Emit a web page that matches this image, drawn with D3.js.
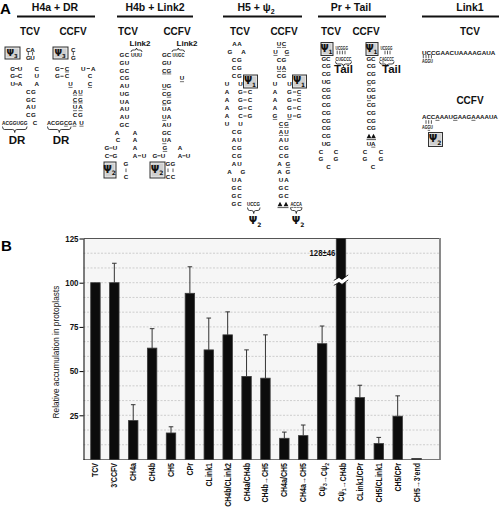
<!DOCTYPE html>
<html><head><meta charset="utf-8">
<script src="https://cdn.jsdelivr.net/npm/d3@7"></script>
<style>body{margin:0;background:#fff}svg{display:block}</style>
</head><body>
<svg id="c" width="499" height="510"></svg>
<script>
// ---------- DATA (panel B) ----------
const categories = ["TCV","3'CCFV","CH4a","CH4b","CH5","CPr","CLink1","CH4b/CLink2","CH4a/CH4b","CH4b→CH5","CH4a/CH5","CH4a→CH5","Cψ3→Cψ2","Cψ1→CH4b","CLink1/CPr","CH5/CLink1","CH5/CPr","CH5→3'end"];
const values = [100,100,22,63,15,94,62,70.5,47,46,12,13.5,65.5,128,35,9,24.5,0.6];
const errors = [0,11,9,11,3.5,15,18,13,15,24.5,3.5,6,10,46,7,3.5,11.5,0];
const yTicks = [25,50,75,100,125];
const yMax = 125;
const breakAt = 103;
const yTitle = "Relative accumulation in protoplasts";

const NF = "'Liberation Sans Narrow','Arial Narrow','Liberation Sans',Arial,sans-serif";
const svg = d3.select('#c');

// ---------- PANEL B ----------
const P = {l:83.5, r:440, t:238.5, b:459.5};
const y = d3.scaleLinear().domain([0, yMax]).range([P.b, P.t]);
const x = d3.scaleBand().domain(categories).range([86, 426]).paddingInner(0.5).paddingOuter(0.25);

const gB = svg.append('g');
gB.append('rect').attr('x',P.l).attr('y',P.t).attr('width',P.r-P.l).attr('height',P.b-P.t).attr('fill','#f6f6f6');
d3.range(1, 15).map(i => i*25/3).filter(v => v < yMax - 0.1).forEach(v => {
  gB.append('line').attr('x1',P.l).attr('x2',P.r-1).attr('y1',y(v)).attr('y2',y(v))
    .attr('stroke','#c4c4c4').attr('stroke-width',0.8).attr('stroke-dasharray','2,1.5');
});
gB.append('line').attr('x1',P.l).attr('x2',P.r).attr('y1',P.t).attr('y2',P.t).attr('stroke','#555').attr('stroke-width',1);
gB.append('line').attr('x1',P.r).attr('x2',P.r).attr('y1',P.t-0.5).attr('y2',P.b+0.5).attr('stroke','#8a8a8a').attr('stroke-width',2);
gB.append('line').attr('x1',P.l).attr('x2',P.r).attr('y1',P.b).attr('y2',P.b).attr('stroke','#777').attr('stroke-width',1);

const ax = gB.append('g').attr('transform',`translate(${P.l},0)`)
  .call(d3.axisLeft(y).tickValues(yTicks).tickSize(4).tickSizeOuter(0));
ax.select('.domain').attr('stroke','#000');
ax.selectAll('.tick line').attr('stroke','#000');
ax.selectAll('.tick text').attr('font-family',NF).attr('font-size',9).attr('font-weight','bold').attr('fill','#111')
  .attr('x',null).attr('transform','translate(-5,0) scale(0.88,1)');

gB.append('text').attr('transform',`translate(59,${(P.t+P.b)/2+3}) rotate(-90)`)
  .attr('text-anchor','middle').attr('font-family','Liberation Sans,Arial,sans-serif').attr('font-size',8.3).attr('fill','#111').text(yTitle);
svg.append('text').attr('x',1).attr('y',251).attr('font-family','Liberation Sans,Arial,sans-serif').attr('font-weight','bold').attr('font-size',15).text('B');

// bars
categories.forEach((c,i) => {
  const v = Math.min(values[i], yMax);
  const bx = x(c), bw = x.bandwidth(), cx = bx + bw/2;
  gB.append('rect').attr('x',bx).attr('y',y(v)).attr('width',bw).attr('height',y(0)-y(v))
    .attr('fill','#0c0c0c').attr('stroke','#3a3a3a').attr('stroke-width',0.8);
  if (values[i] > yMax) {
    const yb = y(breakAt), w = bw/2 + 2.5;
    const zig = (o) => `M${cx-w},${yb+o+3} L${cx-2},${yb+o} L${cx+1},${yb+o+2} L${cx+w},${yb+o-2.5}`;
    gB.append('path').attr('d', zig(0) + ` L${cx+w},${yb-2.5+5} L${cx+1},${yb+2+5} L${cx-2},${yb+5} L${cx-w},${yb+3+5} Z`)
      .attr('fill','#fff').attr('stroke','none');
    gB.append('path').attr('d',zig(0)).attr('fill','none').attr('stroke','#000').attr('stroke-width',0.8);
    gB.append('path').attr('d',zig(5)).attr('fill','none').attr('stroke','#000').attr('stroke-width',0.8);
    gB.append('text').attr('transform',`translate(${bx-1},${y(115)}) scale(0.88,1)`).attr('text-anchor','end')
      .attr('font-family',NF).attr('font-weight','bold').attr('font-size',8.8).attr('fill','#111')
      .text(`${values[i]}±${errors[i]}`);
  } else if (errors[i] > 0) {
    const yt = y(values[i] + errors[i]);
    gB.append('line').attr('x1',cx).attr('x2',cx).attr('y1',y(v)).attr('y2',yt).attr('stroke','#333').attr('stroke-width',1);
    gB.append('line').attr('x1',cx-2.3).attr('x2',cx+2.3).attr('y1',yt).attr('y2',yt).attr('stroke','#333').attr('stroke-width',1);
  }
  // label
  const t = gB.append('text').attr('transform',`translate(${cx+3},${P.b+3.5}) rotate(-90) scale(0.84,1)`)
    .attr('text-anchor','end').attr('font-family',NF).attr('font-weight','bold').attr('font-size',8.4).attr('fill','#111');
  c.split(/(ψ\d)/).forEach(part => {
    const m = part.match(/^ψ(\d)$/);
    if (m) { t.append('tspan').text('ψ'); t.append('tspan').attr('font-size',6).attr('dy',2).text(m[1]); t.append('tspan').attr('dy',-2).text(''); }
    else if (part) t.append('tspan').text(part);
  });
});

// ---------- PANEL A (structure drawings) ----------
const gA = svg.append('g');
const SF = NF;
function row(y0, spec, fs=6.2) {
  spec.trim().split(/\s+/).forEach(tok => {
    const at = tok.lastIndexOf('@');
    const raw = tok.slice(0, at), pos = tok.slice(at+1);
    let x0, x1 = null;
    if (pos.includes('~')) [x0, x1] = pos.split('~').map(Number); else x0 = +pos;
    const chars = [], ul = [];
    for (const ch of raw) { if (ch === '_') { ul.push(chars.length); continue; } chars.push(ch); }
    const s = chars.join('');
    if (s === '|') { gA.append('line').attr('x1',x0).attr('x2',x0).attr('y1',y0-1.8).attr('y2',y0+1.8).attr('stroke','#111').attr('stroke-width',0.7); return; }
    if (s === '–') { gA.append('line').attr('x1',x0-1.6).attr('x2',x0+1.6).attr('y1',y0).attr('y2',y0).attr('stroke','#111').attr('stroke-width',0.8); return; }
    if (s === '▲▲') {
      [x0+2.5, x1-2.5].forEach(cx => gA.append('path').attr('d',`M${cx-2.4},${y0+2.3} L${cx},${y0-2.3} L${cx+2.4},${y0+2.3} Z`).attr('fill','#111'));
      gA.append('line').attr('x1',x0).attr('x2',x1).attr('y1',y0+3.6).attr('y2',y0+3.6).attr('stroke','#111').attr('stroke-width',0.7);
      return;
    }
    const t = gA.append('text').attr('y', y0 + fs*0.36).attr('font-family',SF).attr('font-weight','bold').attr('font-size',fs).attr('fill','#111');
    let k = 1;
    if (x1 !== null) {
      t.attr('x',x0).attr('text-anchor','start').text(s);
      const nat = t.node().getComputedTextLength();
      k = (x1 - x0) / nat;
      t.attr('transform',`translate(${x0},0) scale(${k},1) translate(${-x0},0)`);
    } else t.attr('x',x0).attr('text-anchor','middle').text(s);
    ul.forEach(i => {
      const e = t.node().getExtentOfChar(i);
      const ex0 = x1 !== null ? x0 + (e.x - x0)*k : e.x, ew = e.width*k;
      gA.append('line').attr('x1',ex0+0.2).attr('x2',ex0+ew-0.2).attr('y1',y0+fs*0.36+1.2).attr('y2',y0+fs*0.36+1.2).attr('stroke','#111').attr('stroke-width',0.6);
    });
  });
}
function rows(y0, dy, list) { list.forEach((s,i) => { if (s) row(y0 + i*dy, s); }); }
function label(x0, y0, txt, fs, anchor='middle', weight='bold') {
  return gA.append('text').attr('x',x0).attr('y',y0).attr('text-anchor',anchor).attr('font-family',SF).attr('font-weight',weight).attr('font-size',fs).attr('fill','#111').text(txt);
}
function psiLabel(x0, y0, n, fs=10) {
  const t = gA.append('text').attr('x',x0).attr('y',y0).attr('text-anchor','middle').attr('font-family','DejaVu Sans,sans-serif').attr('font-weight','bold').attr('font-size',fs).attr('fill','#111');
  t.append('tspan').text('Ψ'); t.append('tspan').attr('font-size',fs*0.6).attr('dy',fs*0.25).text(n);
}
function psiBox(x0, y0, w, h, n) {
  gA.append('rect').attr('x',x0).attr('y',y0).attr('width',w).attr('height',h).attr('fill','#cfcfcf').attr('stroke','#333').attr('stroke-width',1);
  gA.append('rect').attr('x',x0+1.2).attr('y',y0+1.2).attr('width',w-2.4).attr('height',h-2.4).attr('fill','none').attr('stroke','#eee').attr('stroke-width',0.6);
  psiLabel(x0 + w/2 - 0.5, y0 + h/2 + 2.6, n, Math.min(h*0.74, 10));
}
function brace(x0, x1, y0, h) {
  const xm = (x0+x1)/2, q = Math.min(2, (x1-x0)/4), hh = h/2;
  gA.append('path').attr('d',`M${x0},${y0} Q${x0},${y0+hh} ${x0+q},${y0+hh} L${xm-q},${y0+hh} Q${xm},${y0+hh} ${xm},${y0+h} Q${xm},${y0+hh} ${xm+q},${y0+hh} L${x1-q},${y0+hh} Q${x1},${y0+hh} ${x1},${y0}`)
    .attr('fill','none').attr('stroke','#111').attr('stroke-width',0.8);
}
function header(cx, x0, x1, txt) {
  const t = label(cx, 11, '', 10.5);
  txt.split(/(ψ\d)/).forEach(p => {
    const m = p.match(/^ψ(\d)$/);
    if (m) { t.append('tspan').text('ψ'); t.append('tspan').attr('font-size',7).attr('dy',2.5).text(m[1]); }
    else if (p) t.append('tspan').text(p);
  });
  gA.append('line').attr('x1',x0).attr('x2',x1).attr('y1',16.5).attr('y2',16.5).attr('stroke','#111').attr('stroke-width',2);
}

svg.append('text').attr('x',0).attr('y',14).attr('font-family','Liberation Sans,Arial,sans-serif').attr('font-weight','bold').attr('font-size',15).text('A');

header(55, 17, 95, 'H4a + DR');
header(155, 117, 193, 'H4b + Link2');
header(256, 223, 302, 'H5 + ψ2');
header(351, 318, 386, 'Pr + Tail');
header(470, 422, 499, 'Link1');

[[30,'TCV'],[73,'CCFV'],[128,'TCV'],[177,'CCFV'],[240,'TCV'],[284,'CCFV'],[331,'TCV'],[366,'CCFV'],[470,'TCV']].forEach(([cx,t]) => label(cx, 35, t, 10));
label(470, 104, 'CCFV', 10);

// H4a + DR, TCV
psiBox(5, 47, 15, 12, '3');
rows(49.5, 4, ['C@28.3 A@32.6', '|@28.3 |@32.6', 'G@28.3 U@32.6']);
rows(68.5, 7.75, [
  'G@12.7 –@16.4 U@20 C@36.7',
  'G@12.7 –@16.4 C@20 U@36.7',
  'U@12.7 –@16.4 A@20 A@36.7',
  'C@28.3 G@33.5', 'G@28.3 C@33.5', 'A@28.3 U@33.5', 'C@28.3 G@33.5',
  'ACGGUGG@2~27.5 C@35']);
brace(2.5, 27, 126.5, 6);
label(17, 144, 'DR', 11.5);

// H4a + DR, CCFV
psiBox(53, 47, 15, 12, '3');
rows(49.5, 4, ['C@73.3', '|@73.3', 'G@73.3']);
rows(68.5, 7.75, [
  'G@57.5 –@62 _C@67 U@83.3 –@88.3 A@93.3',
  'G@57.5 –@62 C@67 C@90',
  '_U@70.5 _C@90',
  '_A@75 _U@80.5', '_C@75 _G@80.5', '_U@75 _A@80.5', 'C@75 G@80.5',
  'ACGG_CG_A@47~76.5 _U@81.5']);
brace(47.5, 71, 126.5, 6);
label(61, 144, 'DR', 11.5);

// H4b + Link2, TCV
label(140, 46, 'Link2', 8);
brace(131, 142, 52, -4);
rows(55, 7.75, [
  'G@122 C@127 UUU@131~142', 'G@122 U@127', 'G@122 C@127', 'C@122 G@127', 'A@122 U@127',
  'U@122 G@127', 'U@122 A@127', 'A@122 U@127', 'A@122 U@127', 'G@122 C@127',
  'A@117 A@135', 'C@118 A@135', 'G@107 –@111 U@115 A@135', 'C@107 –@111 G@115 A@135 –@139.5 U@144']);
psiBox(104, 162, 12, 16, '2');
rows(164, 6.3, ['G@126', '|@126', 'C@126']);

// H4b + Link2, CCFV
label(187, 46, 'Link2', 8);
brace(172, 184.5, 52, -4);
rows(55, 7.75, [
  'G@164.3 C@169 UUGC@172.5~184.5', 'G@164.3 U@169', '_C@164.3 _G@169', '_U@182', '_U@164.3 G@169',
  'C@164.3 _G@169', '_C@164.3 G@169', 'U@164.3 A@169', '_U@164.3 A@169', 'A@164.3 U@169',
  'G@164.3 C@169', '_U@164.3 A@169', '_G@165 A@180', 'G@155 –@159 U@163 A@180 –@184 U@188']);
psiBox(150, 162, 15, 16, '2');
rows(164, 6.3, ['G@168 G@173', '|@168 |@173', 'C@168 C@173']);

// H5 + psi2, TCV
rows(44, 8, [
  'A@234.5 A@239.5', 'G@230 A@243.5', 'C@234 G@239.5', 'C@234 G@239.5', 'C@234 G@239.5',
  'U@227 U@240.5', 'A@227 G@240.5 –@245 C@250', 'A@227 G@240.5 –@245 C@250', 'A@227 G@240.5 –@245 C@250', 'A@227 C@240.5 –@245 G@250',
  'U@227 U@240.5', 'C@234 G@239.5', 'A@234 U@239.5', 'C@234 G@239.5', 'C@234 G@239.5', 'A@234 U@239.5',
  'A@229.5 G@243', 'U@234 A@239.5', 'G@234 C@239.5', 'G@234 C@239.5', 'G@234 C@239.5 UCCG@247~260']);
psiBox(243.5, 75, 14, 13, '1');
brace(247.5, 260, 207.5, 6);
psiLabel(255, 224, '2');

// H5 + psi2, CCFV
rows(44, 8, [
  '_U@279 _C@284', '_U@275.5 _G@287', 'C@279 G@284', '_U@279 _A@284', 'C@279 G@284',
  'U@275 U@289.5', 'A@275 G@289.5 –@294.5 _C@299', 'A@275 G@289.5 –@294.5 C@299', 'A@275 G@289.5 –@294.5 C@299', '_G@275 _U@289.5 –@294.5 G@299',
  '_C@281 _G@286.5', '_A@281 _U@286.5', 'A@281 U@286.5', 'C@281 G@286.5', 'C@281 G@286.5', 'A@279.5 _G@288',
  'A@279.5 G@288', 'U@281 A@286.5', 'G@281 C@286.5', 'G@281 C@286.5', '▲▲@277.5~288.5 _A_C_C_A@290.5~302']);
psiBox(292.5, 75, 14, 13, '1');
brace(290.5, 302, 207.5, 6);
psiLabel(298, 224, '2');

// Pr + Tail, TCV
psiBox(321, 42.5, 12, 13, '1');
row(48, 'UCGGG@335.5~348', 5.6);
row(52.5, '|@337.2 |@339.8 |@342.4 |@345');
rows(58.5, 7.75, [
  'G@324 C@328.3 CUGCCC@335.5~351.5', 'C@324 G@328.3', 'C@324 G@328.3', 'U@324 G@328.3', 'C@324 G@328.3',
  'C@324 G@328.3', 'C@324 G@328.3', 'C@324 G@328.3', 'C@324 G@328.3', 'C@324 G@328.3',
  'C@324 G@328.3', 'U@324 G@328.3', 'C@321 C@336', 'G@321 G@336', 'C@328.5']);
brace(335.5, 351.5, 61.5, 5);
label(343.5, 73, 'Tail', 11.5);

// Pr + Tail, CCFV
psiBox(366, 42.5, 12, 13, '1');
row(48, 'UCGGG@380.5~392.5', 5.6);
row(52.5, '|@385 |@387.5 |@390');
rows(58.5, 7.75, [
  'G@369 C@373.3 C_AGCCC@379.5~394', 'C@369 G@373.3', 'C@369 G@373.3', '_C@369 G@373.3', 'C@369 G@373.3',
  '_U@369 G@373.3', 'C@369 G@373.3', 'C@369 G@373.3', 'C@369 G@373.3', 'C@369 G@373.3',
  '▲▲@366.5~376', 'U@369 _A@373.3', 'C@365 C@381', 'G@365 G@381', 'C@373']);
brace(379.5, 394, 61.5, 5);
label(391.5, 73, 'Tail', 11.5);

// Link1
row(52.5, 'UCCGAACUAAAAGAUA@422~495.5', 6);
row(56.5, '|@423.3 |@426 |@428.7 |@431.4', 6);
row(60.5, 'AGGU@422~433', 6);
row(117, 'ACC_AAAU_GAAG_AAAAUA@422~498', 6);
row(122, '|@426 |@428.7 |@431.4', 6);
row(127, 'AG_GU@422~433', 6);
psiBox(428.5, 132.5, 14, 14, '2');
</script>
</body></html>
